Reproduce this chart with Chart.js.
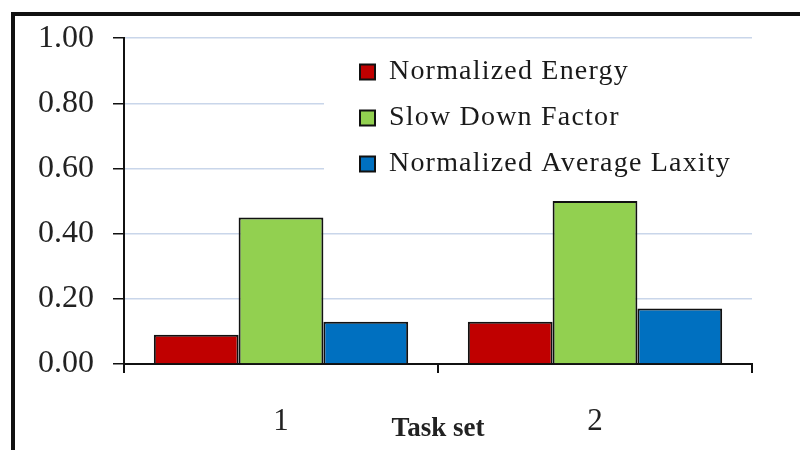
<!DOCTYPE html>
<html>
<head>
<meta charset="utf-8">
<script src="https://cdn.jsdelivr.net/npm/chart.js@4/dist/chart.umd.min.js"></script>
<style>
  html, body { margin: 0; padding: 0; background: #fff; }
  #wrap { position: relative; width: 800px; height: 450px; overflow: hidden; background: #fff; }
  #frame { position: absolute; left: 11px; top: 12px; width: 900px; height: 600px; border-left: 4px solid #111; border-top: 4px solid #111; pointer-events: none; }
</style>
</head>
<body>
<div id="wrap">
  <canvas id="c" width="800" height="450"></canvas>
  <div id="frame"></div>
</div>
<script>
const categories = ['1', '2'];
const seriesNames = ['Normalized Energy', 'Slow Down Factor', 'Normalized Average Laxity'];
const normalizedEnergy = [0.09, 0.13];
const slowDownFactor = [0.45, 0.50];
const normalizedAverageLaxity = [0.13, 0.17];
const seriesColors = ['#c00000', '#92d050', '#0070c0'];
const xAxisTitle = 'Task set';

const seriesValues = [normalizedEnergy, slowDownFactor, normalizedAverageLaxity];
const SERIF = "'Liberation Serif', 'Times New Roman', serif";

const legendPlacer = {
  id: 'legendPlacer',
  beforeLayout(chart) {
    const lg = chart.legend;
    if (!lg || lg._patched) return;
    const orig = lg.draw.bind(lg);
    lg.draw = function (area) {
      const ctx = chart.ctx;
      ctx.save();
      // white legend background hiding the gridlines behind it
      ctx.fillStyle = '#fff';
      ctx.fillRect(324, 46, 428, 142);
      if ('letterSpacing' in ctx) ctx.letterSpacing = '1.2px';
      orig(area);
      ctx.restore();
    };
    lg._patched = true;
  },
  afterLayout(chart) {
    const lg = chart.legend;
    if (!lg) return;
    lg.left = 342; lg.top = 40;
    lg.right = 800; lg.bottom = 202;
    lg.width = lg.right - lg.left; lg.height = lg.bottom - lg.top;
  }
};

const chart = new Chart(document.getElementById('c'), {
  type: 'bar',
  data: {
    labels: categories,
    datasets: seriesNames.map((name, i) => ({
      label: name,
      data: seriesValues[i],
      backgroundColor: seriesColors[i],
      borderColor: '#111',
      borderWidth: 2,
      borderSkipped: 'bottom',
      categoryPercentage: 0.81,
      barPercentage: 1.0
    }))
  },
  options: {
    responsive: false,
    animation: false,
    devicePixelRatio: 1,
    layout: { padding: { left: 0, right: 48, top: 36, bottom: 0 } },
    plugins: {
      legend: {
        display: true,
        position: 'chartArea',
        align: 'start',
        labels: {
          boxWidth: 15,
          boxHeight: 15,
          padding: 18,
          color: '#1a1a1a',
          font: { family: SERIF, size: 28 }
        }
      },
      tooltip: { enabled: false }
    },
    scales: {
      x: {
        afterFit(scale) { scale.height = 86; },
        border: { color: '#111', width: 2 },
        grid: {
          offset: true,
          drawOnChartArea: false,
          color: '#111',
          lineWidth: 2,
          tickLength: 9
        },
        ticks: {
          padding: 30,
          color: '#222',
          font: { family: SERIF, size: 31 }
        },
        title: {
          display: true,
          text: xAxisTitle,
          color: '#222',
          font: { family: SERIF, size: 27, weight: 'bold' },
          padding: { top: 0, bottom: 5 }
        }
      },
      y: {
        min: 0,
        max: 1,
        afterFit(scale) { scale.width = 124; },
        border: { color: '#111', width: 2 },
        grid: {
          z: -1,
          color: '#c9d6ea',
          lineWidth: 1.5,
          tickColor: '#111',
          tickLength: 11,
          drawTicks: true
        },
        ticks: {
          stepSize: 0.2,
          padding: 19,
          color: '#222',
          font: { family: SERIF, size: 32 },
          callback: (v) => Number(v).toFixed(2)
        }
      }
    }
  },
  plugins: [legendPlacer]
});
</script>
</body>
</html>
